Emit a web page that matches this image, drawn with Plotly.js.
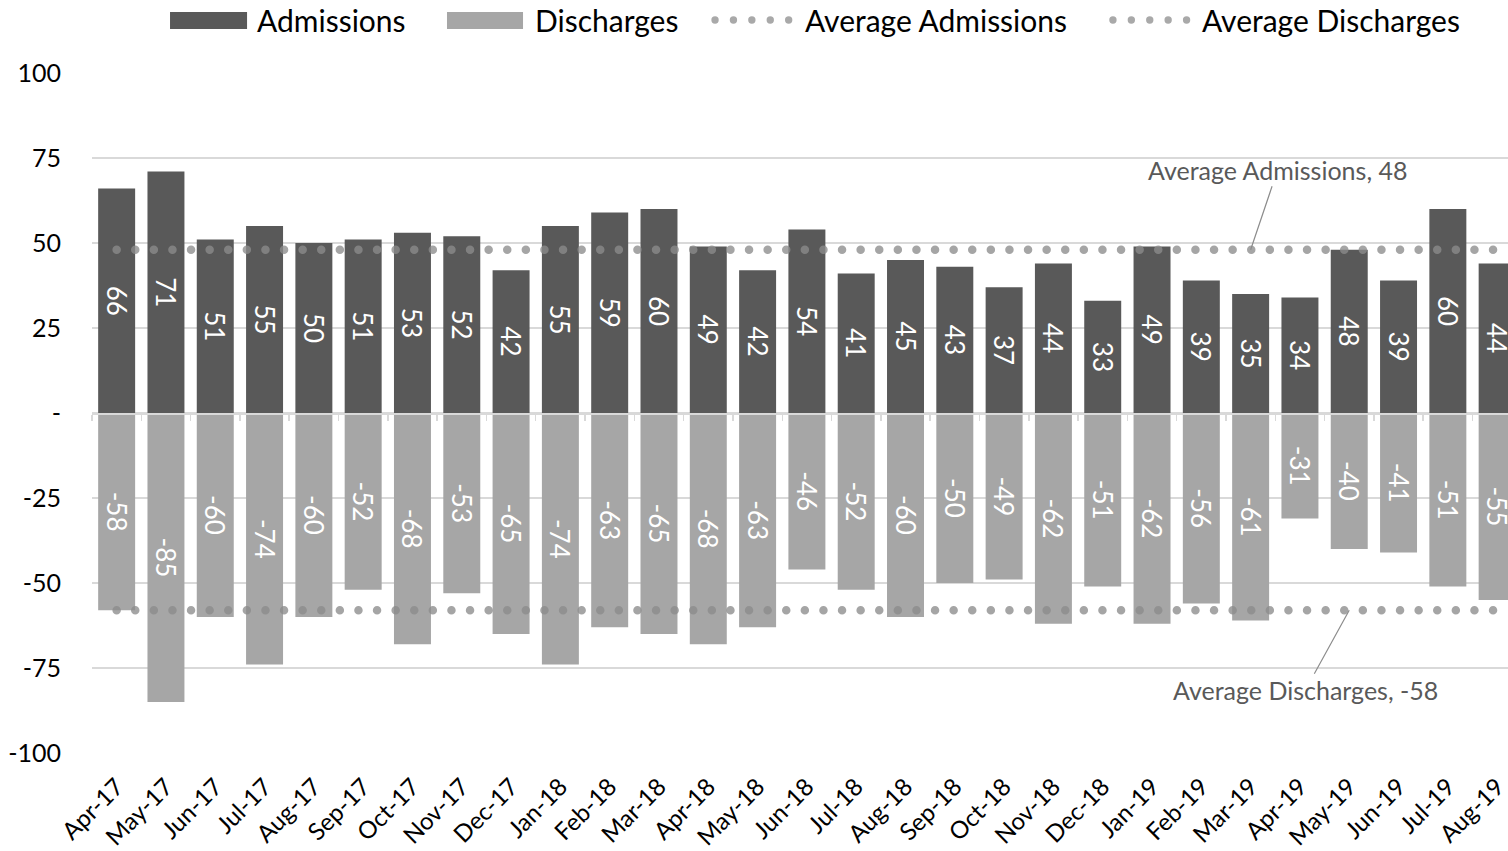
<!DOCTYPE html>
<html>
<head>
<meta charset="utf-8">
<script src="https://cdn.plot.ly/plotly-3.0.1.min.js"></script>
<style>
html,body{margin:0;padding:0;background:#fff;}
#chart{width:1508px;height:851px;}
.scatterlayer .trace path.js-line{stroke-linecap:round;}
</style>
</head>
<body>
<div id="chart"></div>
<script>
const months = ['Apr-17','May-17','Jun-17','Jul-17','Aug-17','Sep-17','Oct-17','Nov-17','Dec-17','Jan-18','Feb-18','Mar-18','Apr-18','May-18','Jun-18','Jul-18','Aug-18','Sep-18','Oct-18','Nov-18','Dec-18','Jan-19','Feb-19','Mar-19','Apr-19','May-19','Jun-19','Jul-19','Aug-19'];
const admissions = [66,71,51,55,50,51,53,52,42,55,59,60,49,42,54,41,45,43,37,44,33,49,39,35,34,48,39,60,44];
const discharges = [-58,-85,-60,-74,-60,-52,-68,-53,-65,-74,-63,-65,-68,-63,-46,-52,-60,-50,-49,-62,-51,-62,-56,-61,-31,-40,-41,-51,-55];
const avgAdmissions = [48,48,48,48,48,48,48,48,48,48,48,48,48,48,48,48,48,48,48,48,48,48,48,48,48,48,48,48,48];
const avgDischarges = [-58,-58,-58,-58,-58,-58,-58,-58,-58,-58,-58,-58,-58,-58,-58,-58,-58,-58,-58,-58,-58,-58,-58,-58,-58,-58,-58,-58,-58];
const yTickVals = [-100,-75,-50,-25,0,25,50,75,100];
const yTickText = ['-100','-75','-50','-25','-','25','50','75','100'];
const seriesNames = ['Admissions','Discharges','Average Admissions','Average Discharges'];
const avgAdmLabelAt = 'Mar-19';
const avgDisLabelAt = 'May-19';

const FONT = 'Lato, "Open Sans", sans-serif';
const DARK = '#595959', LIGHT = '#a6a6a6', DOT = 'rgba(140,140,140,0.78)';

const traces = [
  {type:'bar', name:seriesNames[0], x:months, y:admissions, text:admissions.map(String),
   marker:{color:DARK}, textposition:'inside', insidetextanchor:'middle', textangle:90,
   constraintext:'none', textfont:{color:'#ffffff', size:26, family:FONT}, hoverinfo:'x+y'},
  {type:'bar', name:seriesNames[1], x:months, y:discharges, text:discharges.map(String),
   marker:{color:LIGHT}, textposition:'inside', insidetextanchor:'middle', textangle:90,
   constraintext:'none', textfont:{color:'#ffffff', size:26, family:FONT}, hoverinfo:'x+y'},
  {type:'scatter', mode:'lines', name:seriesNames[2], x:months, y:avgAdmissions, xaxis:'x2', yaxis:'y',
   line:{color:DOT, width:8.5, dash:'0px,18.6px'}},
  {type:'scatter', mode:'lines', name:seriesNames[3], x:months, y:avgDischarges, xaxis:'x2', yaxis:'y',
   line:{color:DOT, width:8.5, dash:'0px,18.6px'}}
];

// custom legend (paper coords)
const shapes = [];
const annotations = [];
const ly0 = 1.0647, ly1 = 1.0897, lyc = 1.0779;
shapes.push({type:'rect', xref:'paper', yref:'paper', x0:0.0551, x1:0.1095, y0:ly0, y1:ly1, fillcolor:DARK, line:{width:0}});
shapes.push({type:'rect', xref:'paper', yref:'paper', x0:0.2507, x1:0.3044, y0:ly0, y1:ly1, fillcolor:LIGHT, line:{width:0}});
[0.4400, 0.7210].forEach(function(start){
  for (let i=0;i<5;i++){
    const cx = start + i*0.0130;
    shapes.push({type:'circle', xref:'paper', yref:'paper', x0:cx-0.0026, x1:cx+0.0026, y0:lyc-0.0054, y1:lyc+0.0054, fillcolor:'#a9a9a9', line:{width:0}});
  }
});
[[0.1151,seriesNames[0]],[0.3114,seriesNames[1]],[0.5021,seriesNames[2]],[0.7825,seriesNames[3]]].forEach(function(p){
  annotations.push({xref:'paper', yref:'paper', x:p[0], y:lyc, xanchor:'left', yanchor:'middle', text:p[1], showarrow:false,
    font:{family:FONT, size:30, color:'#000000'}});
});
annotations.push({x:avgAdmLabelAt, y:avgAdmissions[0], xref:'x', yref:'y', text:'Average Admissions, ' + avgAdmissions[0],
  showarrow:true, arrowhead:0, arrowwidth:1.2, arrowcolor:'#8c8c8c', ax:27, ay:-80,
  font:{family:FONT, size:25, color:DARK}});
annotations.push({x:avgDisLabelAt, y:avgDischarges[0], xref:'x', yref:'y', text:'Average Discharges, ' + avgDischarges[0],
  showarrow:true, arrowhead:0, arrowwidth:1.2, arrowcolor:'#8c8c8c', ax:-44, ay:80,
  font:{family:FONT, size:25, color:DARK}});

const layout = {
  width:1508, height:851,
  margin:{l:92, r:0, t:73, b:98},
  paper_bgcolor:'#ffffff', plot_bgcolor:'#ffffff',
  font:{family:FONT, color:'#000000'},
  barmode:'relative', bargap:0.25,
  showlegend:false,
  xaxis:{type:'category', range:[-0.5, 28.22], showgrid:false, showline:false, zeroline:false, ticks:'',
    tickangle:-45, ticklabelstandoff:14, tickfont:{size:24, color:'#000000', family:FONT}, fixedrange:true},
  xaxis2:{type:'category', overlaying:'x', matches:'x', anchor:'free', position:0.5, showgrid:false,
    showline:true, linecolor:'#d9d9d9', linewidth:1.5, ticks:'outside', ticklen:6, tickwidth:1.5, tickcolor:'#d9d9d9',
    tickson:'boundaries', showticklabels:false, zeroline:false},
  yaxis:{range:[-100,100], tickvals:yTickVals, ticktext:yTickText, showgrid:true, gridcolor:'#d9d9d9', gridwidth:1.5,
    zeroline:false, showline:false, ticks:'', ticklabelstandoff:30, tickfont:{size:25, color:'#000000', family:FONT}},
  shapes:shapes,
  annotations:annotations
};

Plotly.newPlot('chart', traces, layout, {displayModeBar:false, staticPlot:true});
</script>
</body>
</html>
